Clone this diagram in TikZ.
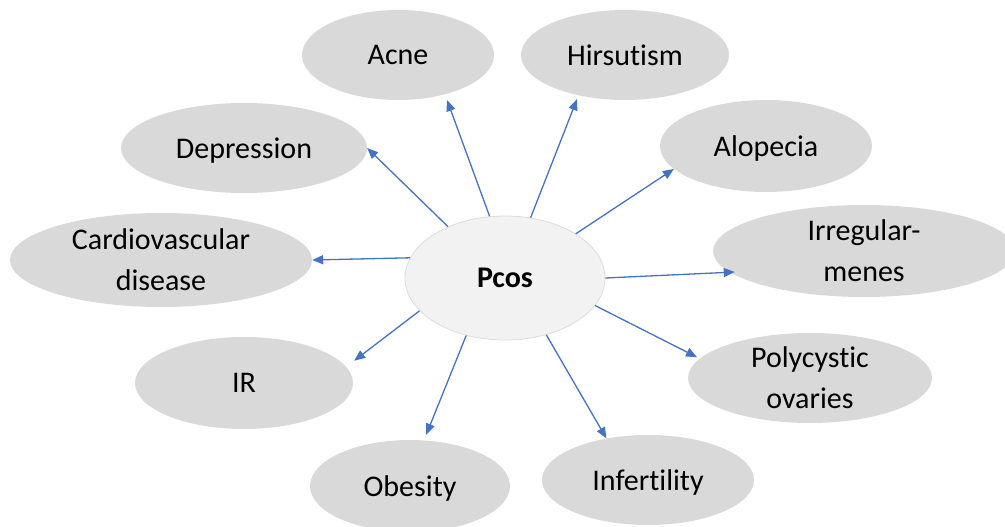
\documentclass[tikz,border=0pt]{standalone}
\usepackage{fontspec}
\setmainfont{Carlito}[RawFeature={-liga;-clig}]
\usetikzlibrary{arrows.meta,shapes.geometric}
\definecolor{ellfill}{HTML}{D9D9D9}
\definecolor{pcosfill}{HTML}{F2F2F2}
\definecolor{pcosline}{HTML}{DCDCDC}
\definecolor{arrblue}{HTML}{4472C4}
\begin{document}
\begin{tikzpicture}[x=1pt,y=-1pt,
  ell/.style={ellipse, fill=ellfill, inner sep=0pt, text depth=0pt, align=center,
              font=\fontsize{30}{41}\selectfont},
  conn/.style={draw=arrblue, line width=1.3pt, -{Triangle[length=11pt,width=9pt]}}]
\useasboundingbox (0,0) rectangle (1005,527);
\clip (0,0) rectangle (1005,527);

\node[ell, minimum width=200pt, minimum height=124pt, fill=pcosfill, draw=pcosline,
      line width=0.8pt, font=\fontsize{30}{41}\selectfont\bfseries] (pcos) at (505,278) {Pcos};
\node[ell, minimum width=192pt, minimum height=90pt] (acne) at (398,55) {Acne};
\node[ell, minimum width=208pt, minimum height=90pt] (hirs) at (625,55) {Hirsutism};
\node[ell, minimum width=246pt, minimum height=90pt] (dep) at (244,148) {Depression};
\node[ell, minimum width=212pt, minimum height=92pt] (alop) at (766,146) {Alopecia};
\node[ell, minimum width=302pt, minimum height=94pt] (cardio) at (161,260) {Cardiovascular\\disease};
\node[ell, minimum width=302pt, minimum height=92pt] (irreg) at (864,251) {Irregular-\\menes};
\node[ell, minimum width=218pt, minimum height=92pt] (ir) at (244,383) {IR};
\node[ell, minimum width=244pt, minimum height=90pt] (poly) at (810,378) {Polycystic\\ovaries};
\node[ell, minimum width=200pt, minimum height=92pt] (obes) at (410,486) {Obesity};
\node[ell, minimum width=212pt, minimum height=90pt] (infert) at (648,480) {Infertility};

\draw[conn] (pcos.138.2) -- (dep.-0.5);
\draw[conn, shorten >=6pt] (pcos.104.3) -- (acne.-40.3);
\draw[conn, shorten >=4pt] (pcos.67) -- (hirs.-139.9);
\draw[conn] (pcos.32.7) -- (alop.-166.7);
\draw[conn] (pcos.168.7) -- (cardio.east);
\draw[conn, shorten >=-5pt] (pcos.0.6) -- (irreg.-171.6);
\draw[conn, shorten >=3pt] (pcos.-17.7) -- (poly.170.5);
\draw[conn] (pcos.-54.4) -- (infert.135.7);
\draw[conn, shorten >=6pt] (pcos.-124) -- (obes.73.2);
\draw[conn, shorten >=10pt] (pcos.-159.2) -- (ir.9.6);
\end{tikzpicture}
\end{document}
